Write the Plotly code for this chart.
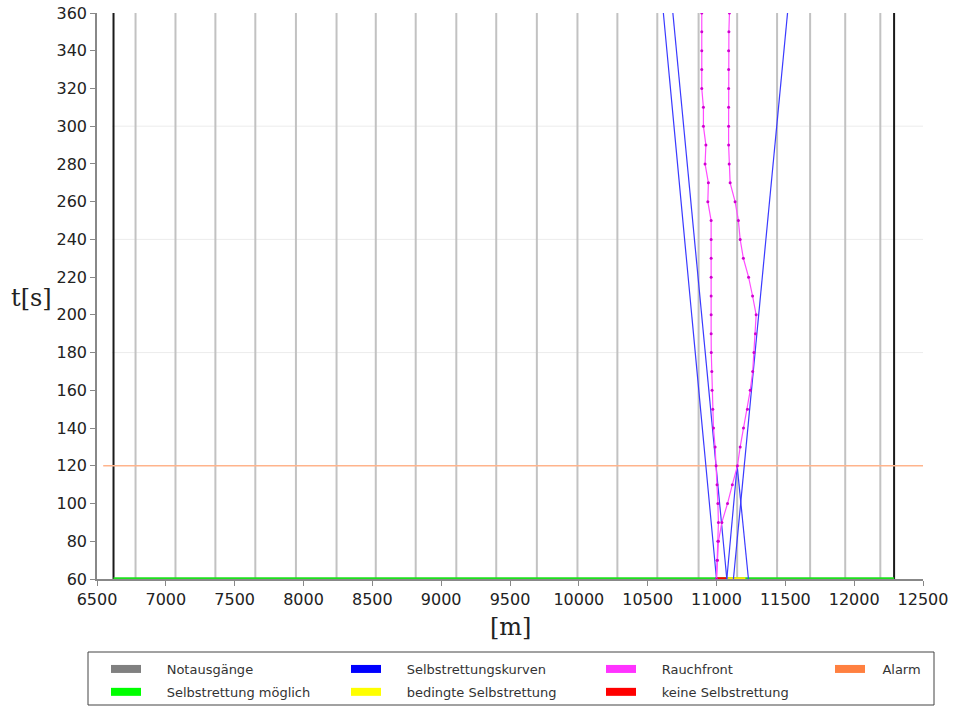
import plotly.graph_objects as go

# ---------------- data ----------------
# emergency exits (Notausgänge) positions [m]
exits = [6780, 7070, 7360, 7650, 7945, 8240, 8525, 8815, 9110, 9400,
         9695, 9990, 10280, 10570, 10870, 11150, 11440, 11680, 11935, 12190]
# tunnel portals
portals = [6620, 12290]

t_min, t_max = 60, 360

# smoke front (Rauchfront), sampled every 10 s
smoke_t = [60, 70, 80, 90, 100, 110, 120, 130, 140, 150, 160, 170, 180, 190, 200,
           210, 220, 230, 240, 250, 260, 270, 280, 290, 300, 310, 320, 330, 340, 350, 360]
smoke_left = [11000, 11006, 11010, 11014, 11010, 11004, 10997, 10990, 10978, 10973,
              10968, 10966, 10962, 10961, 10961, 10961, 10961, 10961, 10961, 10961,
              10937, 10941, 10917, 10923, 10905, 10905, 10893, 10893, 10893, 10893, 10893]
smoke_right = [11000, 11005, 11014, 11039, 11080, 11115, 11152, 11172, 11196, 11225,
               11245, 11263, 11272, 11283, 11288, 11262, 11233, 11195, 11172, 11159,
               11135, 11099, 11092, 11088, 11088, 11088, 11088, 11088, 11088, 11090, 11094]

# self-rescue curves (Selbstrettungskurven): start -> end
sr_x0 = [11000, 11075, 11075, 11123, 11232]
sr_t0 = [60, 60, 60, 60, 60]
sr_x1 = [10614, 10683, 11150, 11516, 11150]
sr_t1 = [360, 360, 120, 360, 120]

# alarm
alarm_t = 120
alarm_x = [6545, 12500]

# self-rescue status along the tunnel at t = 60
ok_x = [6620, 12290]          # Selbstrettung möglich
cond_x = [11075, 11210]       # bedingte Selbstrettung
none_x = [11000, 11075]       # keine Selbstrettung

grid_t = [180, 240, 300]

x_ticks = list(range(6500, 12501, 500))
y_ticks = list(range(60, 361, 20))

# ---------------- colours ----------------
C_EXIT = "#c2c2c2"
C_EXIT_LEG = "#808080"
C_BLUE = "#3a3aff"
C_PINK = "#ff4dff"
C_PINK_M = "#d000d0"
C_ALARM = "#ffb48c"
C_ALARM_LEG = "#ff8040"
C_GREEN = "#1ee01e"
C_YELLOW = "#ffee00"
C_RED = "#ff0000"

fig = go.Figure()

# exits
ex, ey = [], []
for x in exits:
    ex += [x, x, None]
    ey += [t_min, t_max, None]
fig.add_trace(go.Scatter(x=ex, y=ey, mode="lines", line=dict(color=C_EXIT, width=2),
                         showlegend=False, hoverinfo="skip"))
# portals
px_, py_ = [], []
for x in portals:
    px_ += [x, x, None]
    py_ += [t_min, t_max, None]
fig.add_trace(go.Scatter(x=px_, y=py_, mode="lines", line=dict(color="#1a1a1a", width=2),
                         showlegend=False, hoverinfo="skip"))

# alarm line
fig.add_trace(go.Scatter(x=alarm_x, y=[alarm_t] * len(alarm_x), mode="lines",
                         line=dict(color=C_ALARM, width=1.6), showlegend=False))

# status line at bottom
fig.add_trace(go.Scatter(x=ok_x, y=[t_min] * 2, mode="lines",
                         line=dict(color=C_GREEN, width=3.5), showlegend=False, cliponaxis=False))
fig.add_trace(go.Scatter(x=cond_x, y=[t_min] * 2, mode="lines",
                         line=dict(color=C_YELLOW, width=3.5), showlegend=False, cliponaxis=False))
fig.add_trace(go.Scatter(x=none_x, y=[t_min] * 2, mode="lines",
                         line=dict(color=C_RED, width=3.5), showlegend=False, cliponaxis=False))

# self-rescue curves
bx, by = [], []
for a, b, c, d in zip(sr_x0, sr_t0, sr_x1, sr_t1):
    bx += [a, c, None]
    by += [b, d, None]
fig.add_trace(go.Scatter(x=bx, y=by, mode="lines", line=dict(color=C_BLUE, width=1.2),
                         showlegend=False))

# smoke fronts
for xs in (smoke_left, smoke_right):
    fig.add_trace(go.Scatter(x=xs, y=smoke_t, mode="lines+markers",
                             line=dict(color=C_PINK, width=1.2),
                             marker=dict(color=C_PINK_M, size=3),
                             showlegend=False))

# legend-only entries, one legend per column
legend_cols = [
    [("Notausgänge", C_EXIT_LEG), ("Selbstrettung möglich", "#00ff00")],
    [("Selbstrettungskurven", "#0000ff"), ("bedingte Selbstrettung", "#ffff00")],
    [("Rauchfront", "#ff33ff"), ("keine Selbstrettung", "#ff0000")],
    [("Alarm", C_ALARM_LEG)],
]
legend_x_px = [106, 346, 601, 830]
legend_pad = [5, 5, 5, 3]
legend_ids = ["legend", "legend2", "legend3", "legend4"]

for ci, items in enumerate(legend_cols):
    for ri, (name, col) in enumerate(items):
        fig.add_trace(go.Scatter(x=[None], y=[None], mode="lines",
                                 name="\u00a0" * legend_pad[ci] + name,
                                 legend=legend_ids[ci], legendgroup=f"g{ci}{ri}",
                                 line=dict(color=col, width=8), showlegend=True))

legend_common = dict(orientation="v", xref="container", yref="container",
                     xanchor="left", yanchor="top", y=1 - 654 / 706,
                     borderwidth=0, bgcolor="rgba(0,0,0,0)",
                     font=dict(family="DejaVu Sans", size=13, color="#333"),
                     itemwidth=30, tracegroupgap=3)

layout_legends = {}
for ci, lid in enumerate(legend_ids):
    layout_legends[lid] = dict(legend_common, x=legend_x_px[ci] / 954)

plot_l, plot_r, plot_t, plot_b = 97, 31, 13, 127
plot_w = 954 - plot_l - plot_r
plot_h = 706 - plot_t - plot_b

fig.update_layout(
    width=954, height=706,
    margin=dict(l=plot_l, r=plot_r, t=plot_t, b=plot_b, autoexpand=False),
    paper_bgcolor="white", plot_bgcolor="white",
    font=dict(family="DejaVu Sans", size=16, color="#222"),
    xaxis=dict(range=[6500, 12500], tickvals=x_ticks, ticktext=[str(v) for v in x_ticks],
               ticks="outside", ticklen=5,
               tickcolor="#888", showline=True, linecolor="#888", linewidth=1.5,
               showgrid=False, zeroline=False,
               tickfont=dict(family="DejaVu Sans", size=16, color="#222")),
    yaxis=dict(range=[t_min, t_max], tickvals=y_ticks, ticktext=[str(v) for v in y_ticks],
               ticks="outside", ticklen=5,
               tickcolor="#888", showline=True, linecolor="#888", linewidth=1.5,
               showgrid=False, zeroline=False,
               tickfont=dict(family="DejaVu Sans", size=16, color="#222")),
    annotations=[
        dict(text="t[s]", xref="paper", yref="paper", x=-0.079, y=0.497,
             xanchor="center", yanchor="middle", showarrow=False,
             font=dict(family="DejaVu Serif", size=24, color="#222")),
        dict(text="[m]", xref="paper", yref="paper", x=0.5, y=-0.085,
             xanchor="center", yanchor="middle", showarrow=False,
             font=dict(family="DejaVu Serif", size=24, color="#222")),
    ],
    shapes=[dict(type="line", xref="paper", yref="y", x0=0.018, x1=1, y0=g, y1=g,
                 line=dict(color="#ececec", width=1), layer="below") for g in grid_t]
    + [dict(type="rect", xref="paper", yref="paper",
            x0=(88 - plot_l) / plot_w, x1=(934 - plot_l) / plot_w,
            y0=(plot_h + plot_t - 705) / plot_h, y1=(plot_h + plot_t - 652) / plot_h,
            line=dict(color="#444", width=1), fillcolor="rgba(0,0,0,0)", layer="above")],
    **layout_legends,
)

fig.write_html("out.html")
